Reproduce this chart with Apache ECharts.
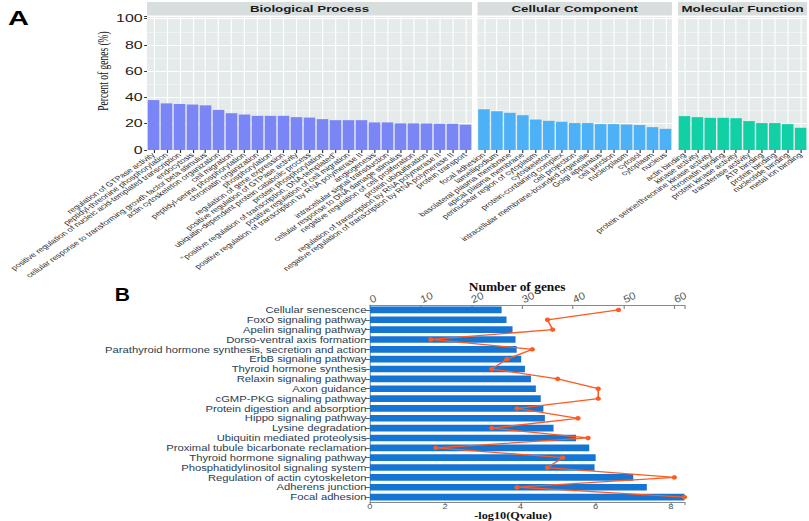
<!DOCTYPE html>
<html><head><meta charset="utf-8">
<script src="https://cdn.jsdelivr.net/npm/echarts@6/dist/echarts.min.js"></script>
<style>
html,body{margin:0;padding:0;background:#fff;overflow:hidden;width:809px;height:521px;position:relative}
#a{position:absolute;left:0;top:0;width:558px;height:280px;transform:scaleX(1.45);transform-origin:0 0}
#b{position:absolute;left:0;top:280px;width:692px;height:241px;transform:scaleX(1.17);transform-origin:0 0}
</style>
</head><body><div id="a"></div><div id="b"></div>
<script>
// ---------- Panel A data ----------
const bpCats = ["regulation of GTPase activity","peptidyl-threonine phosphorylation","positive regulation of nucleic acid-templated transcription","endocytosis","cellular response to transforming growth factor beta stimulus","actin cytoskeleton organization","cell migration","peptidyl-serine phosphorylation","chromatin organization","phosphorylation","regulation of gene expression","positive regulation of GTPase activity","ubiquitin-dependent protein catabolic process","protein phosphorylation","\"positive regulation of transcription, DNA-templated\"","positive regulation of cell migration","positive regulation of transcription by RNA polymerase II","angiogenesis","intracellular signal transduction","cellular response to DNA damage stimulus","negative regulation of cell proliferation","protein ubiquitination","regulation of transcription by RNA polymerase II","negative regulation of transcription by RNA polymerase II","protein transport"];
const bpVals = [38,35.5,35,34.6,34,30.5,28,27,26,26,26,25,24.7,23.5,22.7,22.7,22.7,21,21,20.3,20.3,20.2,20,20,19.3];
const ccCats = ["focal adhesion","lamellipodium","basolateral plasma membrane","apical plasma membrane","perinuclear region of cytoplasm","cytoskeleton","protein-containing complex","cell projection","intracellular membrane-bounded organelle","Golgi apparatus","cell junction","nucleoplasm","cytosol","cytoplasm","nucleus"];
const ccVals = [31,29.5,28.3,26.5,23.2,22.2,21.5,20.5,20.5,19.7,19.7,19.4,19,17.4,16.1];
const mfCats = ["actin binding","kinase activity","protein serine/threonine kinase activity","chromatin binding","protein kinase activity","transferase activity","ATP binding","protein binding","nucleotide binding","metal ion binding"];
const mfVals = [25.8,25,24.5,24.5,24.2,22,20.5,20.5,19.7,16.9];
const facetNames = ["Biological Process","Cellular Component","Molecular Function"];
const percentTicks = [0,20,40,60,80,100];

// ---------- Panel B data ----------
const pathways = ["Cellular senescence","FoxO signaling pathway","Apelin signaling pathway","Dorso-ventral axis formation","Parathyroid hormone synthesis, secretion and action","ErbB signaling pathway","Thyroid hormone synthesis","Relaxin signaling pathway","Axon guidance","cGMP-PKG signaling pathway","Protein digestion and absorption","Hippo signaling pathway","Lysine degradation","Ubiquitin mediated proteolysis","Proximal tubule bicarbonate reclamation","Thyroid hormone signaling pathway","Phosphatidylinositol signaling system","Regulation of actin cytoskeleton","Adherens junction","Focal adhesion"];
const negLogQ = [3.50,3.63,3.79,3.87,3.90,4.02,4.12,4.28,4.41,4.54,4.61,4.65,4.88,5.48,5.83,6.00,5.97,7.00,7.36,8.36];
const geneCounts = [49,35,36,12,32,27,24,37,45,45,29,41,24,43,13,38,35,60,29,62];
const qTicks = [0,2,4,6,8];
const geneTicks = [0,10,20,30,40,50,60];

const sans = 'Liberation Sans';

// ================= Panel A =================
const chartA = echarts.init(document.getElementById('a'), null, {renderer:'svg'});
const facetGrids = [
  {left:101.4, top:16, width:224.1, height:134},
  {left:329.3, top:16, width:134.1, height:134},
  {left:467.6, top:16, width:89.0, height:134}
];
const facetCats = [bpCats, ccCats, mfCats];
const facetVals = [bpVals, ccVals, mfVals];
const facetColors = ['#7b86f6','#4cb1f6','#12d0a6'];

const gridsA = facetGrids.map(g => Object.assign({show:true, backgroundColor:'#e5eaea', borderWidth:0,
  containLabel:false, outerBoundsMode:'none'}, g));
const xAxesA = facetCats.map((cats, i) => ({
  type:'category', gridIndex:i, data:cats,
  axisLine:{show:false},
  axisTick:{show:true, alignWithLabel:true, length:3, lineStyle:{color:'#333', width:0.8}},
  splitLine:{show:true, alignWithLabel:true, lineStyle:{color:'#ffffff', width:0.8}},
  axisLabel:{interval:0, rotate:45, fontSize:6.5, fontFamily:sans, color:'#2a2a2a', margin:4}
}));
const yAxesA = facetCats.map((c, i) => ({
  type:'value', gridIndex:i, min:0, max:102, interval:20,
  axisLine:{show:false},
  axisTick:{show:i===0, length:2, lineStyle:{color:'#333'}},
  axisLabel:{show:i===0, fontSize:11, fontFamily:sans, color:'#222', margin:3,
    formatter: v => percentTicks.includes(v) ? String(v) : ''},
  splitLine:{show:true, lineStyle:{color:'#ffffff', width:1.1}},
  minorTick:{show:false, splitNumber:2},
  minorSplitLine:{show:true, lineStyle:{color:'#f4f6f6', width:0.6}}
}));
const seriesA = facetVals.map((vals, i) => ({
  type:'bar', xAxisIndex:i, yAxisIndex:i, data:vals, barCategoryGap:'11%',
  itemStyle:{color:facetColors[i]}, silent:true, animation:false
}));
const graphicA = [];
facetGrids.forEach((g, i) => {
  graphicA.push({type:'rect', shape:{x:g.left, y:2, width:g.width, height:13.5},
    style:{fill:'#d8dede'}, silent:true});
  graphicA.push({type:'text', x:g.left + g.width/2, y:9,
    style:{text:facetNames[i], font:'bold 9.2px "Liberation Sans"', fill:'#1a1a1a', align:'center', verticalAlign:'middle'}});
});
graphicA.push({type:'text', x:5.5, y:18, style:{text:'A', font:'bold 20px "Liberation Sans"', fill:'#000', verticalAlign:'middle'}});
graphicA.push({type:'text', rotation:Math.PI/2, x:71, y:71,
  style:{text:'Percent of genes (%)', font:'9.5px "Liberation Serif"', fill:'#111', align:'center', verticalAlign:'middle'}});

chartA.setOption({animation:false, grid:gridsA, xAxis:xAxesA, yAxis:yAxesA, series:seriesA, graphic:graphicA});

// ================= Panel B =================
const chartB = echarts.init(document.getElementById('b'), null, {renderer:'svg'});
chartB.setOption({
  animation:false,
  grid:[{left:316.2, width:268.8, top:25, height:197, containLabel:false, outerBoundsMode:'none'}],
  xAxis:[
    {type:'value', position:'bottom', min:0, max:8.36, interval:2,
      axisLine:{show:true, lineStyle:{color:'#888'}},
      axisTick:{show:true, length:3, lineStyle:{color:'#888'}},
      splitLine:{show:false},
      axisLabel:{fontSize:8, fontFamily:sans, color:'#555', margin:0,
        formatter: v => qTicks.includes(v) ? String(v) : ''}},
    {type:'value', position:'top', min:0, max:62, interval:10,
      axisLine:{show:true, lineStyle:{color:'#888'}},
      axisTick:{show:true, length:4, inside:true, lineStyle:{color:'#888'}},
      splitLine:{show:false},
      axisLabel:{fontSize:10, fontFamily:sans, fontStyle:'italic', color:'#555', rotate:-30, margin:5,
        formatter: v => geneTicks.includes(v) ? String(v) : ''}}
  ],
  yAxis:[{type:'category', data:pathways, inverse:true,
    axisLine:{show:true, lineStyle:{color:'#999'}},
    axisTick:{show:true, alignWithLabel:true, length:4, lineStyle:{color:'#666'}},
    axisLabel:{interval:0, fontSize:9.6, fontFamily:sans, color:'#2a3d50', margin:3}}],
  series:[
    {type:'bar', xAxisIndex:0, data:negLogQ, barCategoryGap:'32%',
      itemStyle:{color:'#1575d3'}, z:2},
    {type:'line', xAxisIndex:1, data:geneCounts,
      lineStyle:{color:'#ff5a22', width:1.3}, itemStyle:{color:'#ff5a22'},
      symbol:'circle', symbolSize:4.5, z:3}
  ],
  graphic:[
    {type:'text', x:98, y:15, style:{text:'B', font:'bold 18px "Liberation Sans"', fill:'#000', verticalAlign:'middle'}},
    {type:'text', x:442, y:7, style:{text:'Number of genes', font:'bold 11.5px "Liberation Serif"', fill:'#111', align:'center', verticalAlign:'middle'}},
    {type:'text', x:438.5, y:235.3, style:{text:'-log10(Qvalue)', font:'bold 10.5px "Liberation Serif"', fill:'#111', align:'center', verticalAlign:'middle'}}
  ]
});
</script></body></html>
